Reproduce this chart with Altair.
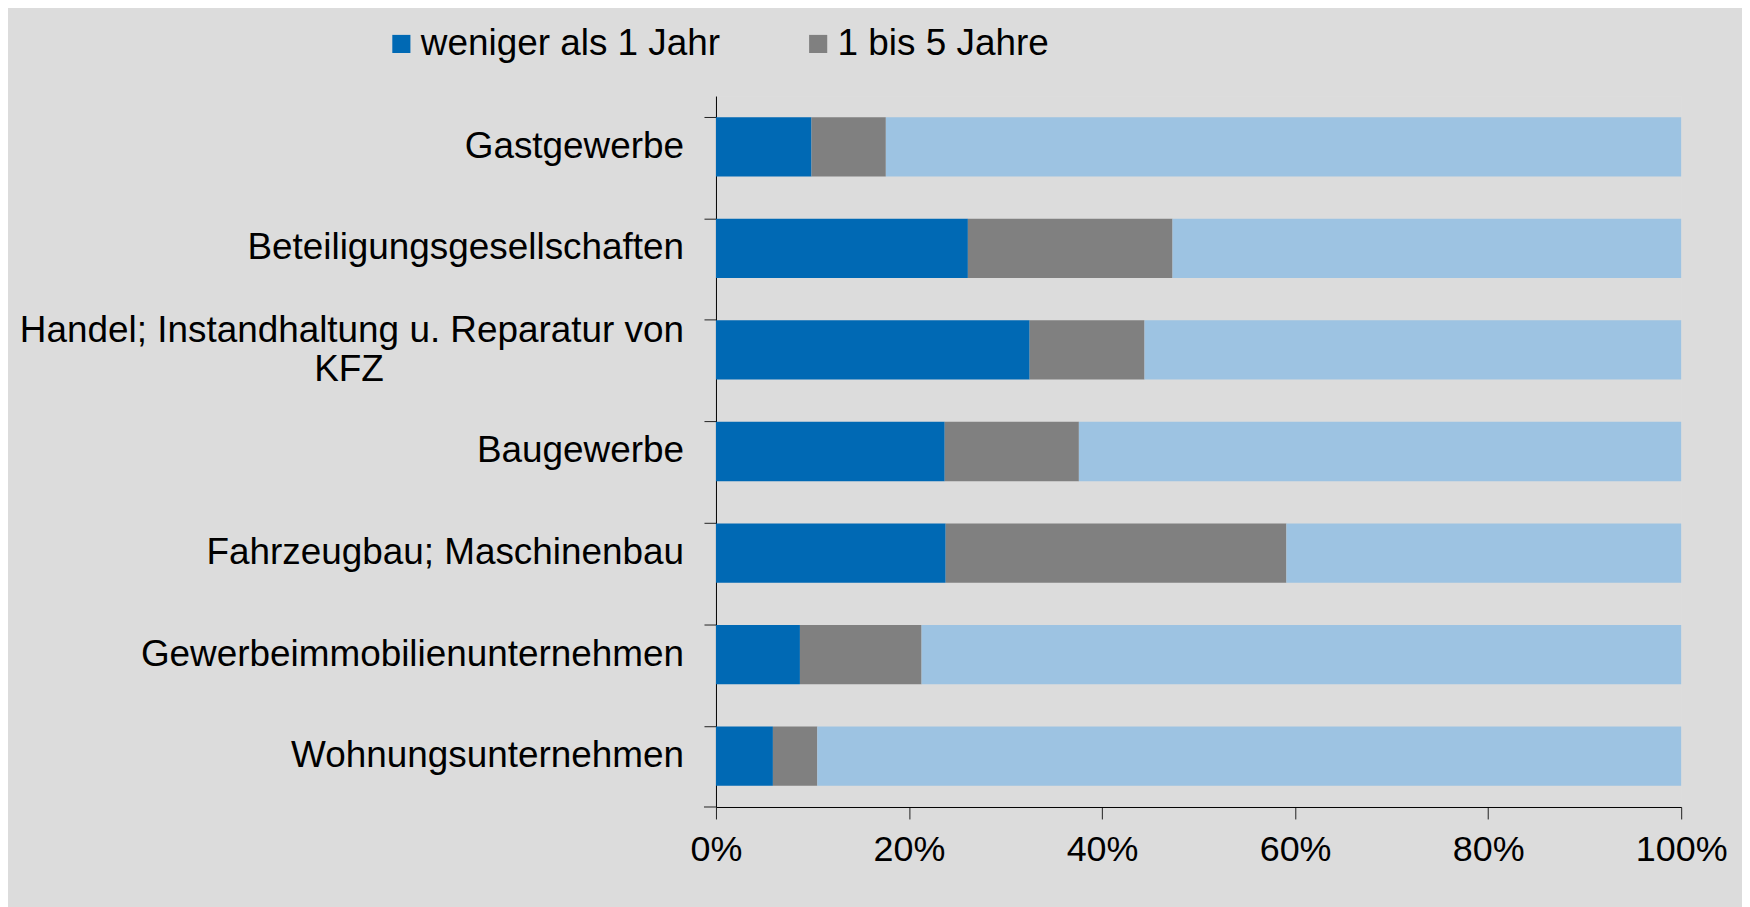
import altair as alt
import pandas as pd

categories = [
    "Gastgewerbe",
    "Beteiligungsgesellschaften",
    "Handel; Instandhaltung u. Reparatur von KFZ",
    "Baugewerbe",
    "Fahrzeugbau; Maschinenbau",
    "Gewerbeimmobilienunternehmen",
    "Wohnungsunternehmen",
]
# axis label text as drawn: single-line labels, and the one label that wraps
label_single = [
    "Gastgewerbe",
    "Beteiligungsgesellschaften",
    "",
    "Baugewerbe",
    "Fahrzeugbau; Maschinenbau",
    "Gewerbeimmobilienunternehmen",
    "Wohnungsunternehmen",
]
label_wrap_1 = ["", "", "Handel; Instandhaltung u. Reparatur von", "", "", "", ""]
label_wrap_2 = ["", "", "KFZ", "", "", "", ""]

series = ["weniger als 1 Jahr", "1 bis 5 Jahre", "mehr als 5 Jahre"]
colors = ["#0069B4", "#808080", "#9DC3E2"]

less_than_1 = [9.9, 26.1, 32.5, 23.7, 23.8, 8.7, 5.9]
one_to_5 = [7.7, 21.2, 11.9, 13.9, 35.3, 12.6, 4.6]
more_than_5 = [82.4, 52.7, 55.6, 62.4, 40.9, 78.7, 89.5]

x_ticks = [0, 20, 40, 60, 80, 100]

rows = []
for i, c in enumerate(categories):
    for j, (s, vals) in enumerate(zip(series, [less_than_1, one_to_5, more_than_5])):
        rows.append({"category": c, "series": s, "value": vals[i], "order": j})
df = pd.DataFrame(rows)

labels_df = pd.DataFrame({
    "category": categories,
    "single": label_single,
    "wrap1": label_wrap_1,
    "wrap2": label_wrap_2,
})

FONT = "Liberation Sans"

y_enc = alt.Y(
    "category:N",
    sort=categories,
    scale=alt.Scale(paddingInner=0.416, paddingOuter=0.208),
    axis=alt.Axis(
        labels=False,
        title=None,
        bandPosition=0,
        tickSize=12,
        tickColor="#222222",
        domainColor="#000000",
        domainWidth=1,
        tickWidth=1,
    ),
)

bars = alt.Chart(df).mark_bar().encode(
    x=alt.X(
        "value:Q",
        stack="zero",
        scale=alt.Scale(domain=[0, 100], nice=False),
        axis=alt.Axis(
            values=x_ticks,
            labelExpr="datum.value + '%'",
            title=None,
            grid=False,
            tickSize=12,
            labelPadding=14,
            labelFontSize=36,
            labelFont=FONT,
            labelColor="#000000",
            domainColor="#000000",
            tickColor="#222222",
            labelFlush=False,
        ),
    ),
    y=y_enc,
    color=alt.Color(
        "series:N",
        scale=alt.Scale(domain=series, range=colors),
        legend=alt.Legend(
            values=series[:2],
            orient="none",
            direction="horizontal",
            legendX=-334,
            legendY=-71,
            title=None,
            symbolType="square",
            symbolSize=330,
            symbolStrokeWidth=0,
            labelFontSize=37,
            labelFont=FONT,
            labelColor="#000000",
            labelOffset=1,
            labelLimit=0,
            columnPadding=79,
            padding=0,
        ),
    ),
    order=alt.Order("order:Q"),
)

text_style = dict(baseline="middle", fontSize=37, font=FONT, color="#000000")

labels = alt.Chart(labels_df).mark_text(align="right", **text_style).encode(
    y=alt.Y("category:N", sort=categories),
    x=alt.value(-32),
    text="single:N",
)

wrap1 = alt.Chart(labels_df[labels_df["wrap1"] != ""]).mark_text(
    align="right", dy=-19, **text_style
).encode(
    y=alt.Y("category:N", sort=categories),
    x=alt.value(-32),
    text="wrap1:N",
)

wrap2 = alt.Chart(labels_df[labels_df["wrap2"] != ""]).mark_text(
    align="center", dy=20, **text_style
).encode(
    y=alt.Y("category:N", sort=categories),
    x=alt.value(-368),
    text="wrap2:N",
)

bottom_tick = alt.Chart(pd.DataFrame({"t": [0]})).mark_rule(color="#222222", strokeWidth=1).encode(
    x=alt.value(-12), x2=alt.value(0), y=alt.value(713)
)

chart = alt.layer(bars, labels, wrap1, wrap2, bottom_tick).properties(
    width=968,
    height=713,
    padding={"left": 710, "top": 87, "right": 61, "bottom": 99},
    autosize=alt.AutoSizeParams(type="none"),
    background="#DCDCDC",
).configure_view(stroke=None).configure(font=FONT)

chart.save("out.html", embed_options={"renderer": "svg", "actions": False})
